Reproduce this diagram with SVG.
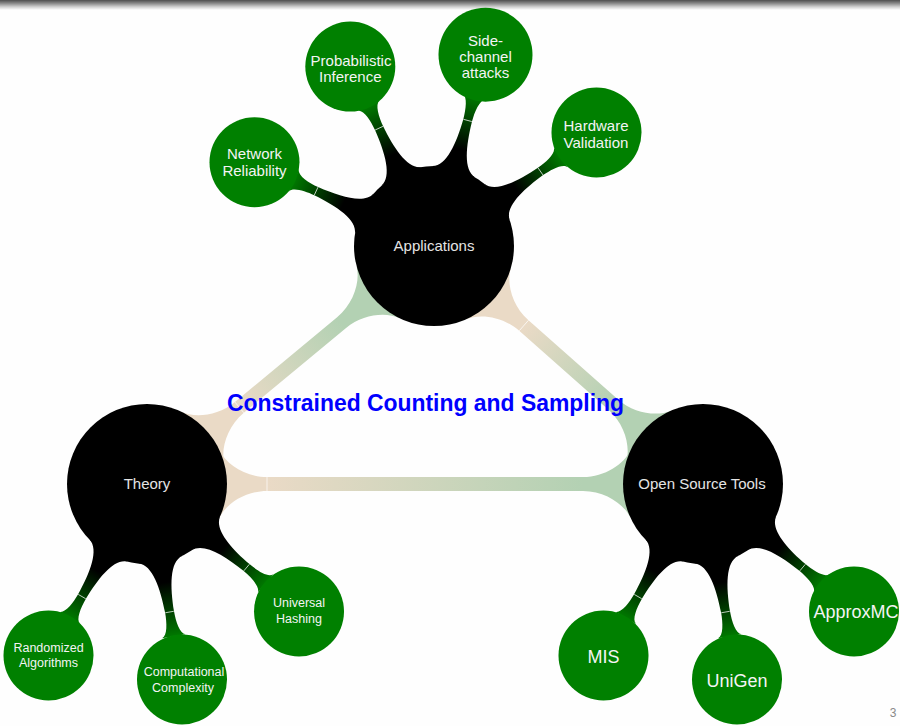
<svg xmlns="http://www.w3.org/2000/svg" xmlns:xlink="http://www.w3.org/1999/xlink" width="900" height="726" viewBox="0 0 900 726">
  <defs>
    <style>
      .t { font-family: "Liberation Sans", Arial, sans-serif; text-anchor: middle; }
      .main { fill: #e4e4e4; font-size: 15px; }
      .kid { fill: #f4f4f4; font-size: 15px; }
      .kids { fill: #f4f4f4; font-size: 12.5px; }
      .kidl { fill: #f4f4f4; font-size: 18px; }
      .hub { fill: #000000; }
      .leaf { fill: #008000; }
      .tick { stroke: #ffffff; stroke-width: 0.8; stroke-opacity: 0.85; }
    </style>
    <linearGradient id="topbar" x1="0" y1="0" x2="0" y2="1">
      <stop offset="0" stop-color="#4d4d4d"/>
      <stop offset="0.35" stop-color="#8c8c8c"/>
      <stop offset="0.7" stop-color="#d2d2d2"/>
      <stop offset="1" stop-color="#fefefe"/>
    </linearGradient>
    <linearGradient id="cg" gradientUnits="userSpaceOnUse" x1="100" y1="0" x2="158" y2="0">
      <stop offset="0" stop-color="#000000"/>
      <stop offset="1" stop-color="#008000"/>
    </linearGradient>
    <linearGradient id="bg1" gradientUnits="userSpaceOnUse" x1="120" y1="0" x2="436" y2="0">
      <stop offset="0" stop-color="#eadac6"/>
      <stop offset="1" stop-color="#b3d1b3"/>
    </linearGradient>
    <linearGradient id="bg2" gradientUnits="userSpaceOnUse" x1="120" y1="0" x2="252.8" y2="0">
      <stop offset="0" stop-color="#eadac6"/>
      <stop offset="1" stop-color="#b3d1b3"/>
    </linearGradient>
    <linearGradient id="bg3" gradientUnits="userSpaceOnUse" x1="120" y1="0" x2="239.2" y2="0">
      <stop offset="0" stop-color="#eadac6"/>
      <stop offset="1" stop-color="#b3d1b3"/>
    </linearGradient>
    <g id="conn">
      <path fill="url(#cg)" d="M 76.9,22.05 C 80.76,8.6 105,5 130,4.5 C 140,4.5 153,6.1 154.6,11.9 L 154.6,-11.9 C 153,-6.1 140,-4.5 130,-4.5 C 105,-5 80.76,-8.6 76.9,-22.05 Z"/>
      <line class="tick" x1="130" y1="-4.3" x2="130" y2="4.3"/>
    </g>
  </defs>

  <rect x="0" y="0" width="900" height="726" fill="#fefefe"/>
  <rect x="0" y="0" width="900" height="10" fill="url(#topbar)"/>

  <g id="connectors">
    <!-- main bands -->
    <g transform="translate(147,484)">
      <path fill="url(#bg1)" d="M 72.5,33.8 C 78.8,20.2 98,7 120,7 L 436,7 C 458,7 477.2,20.2 483.5,33.8 L 483.5,-33.8 C 477.2,-20.2 458,-7 436,-7 L 120,-7 C 98,-7 78.8,-20.2 72.5,-33.8 Z"/>
      <line class="tick" x1="120" y1="-7" x2="120" y2="7"/>
    </g>
    <g transform="translate(147,484) rotate(-39.67)">
      <path fill="url(#bg2)" d="M 72.5,33.8 C 78.8,20.2 98,7 120,7 L 252.8,7 C 274.8,7 294,20.2 300.3,33.8 L 300.3,-33.8 C 294,-20.2 274.8,-7 252.8,-7 L 120,-7 C 98,-7 78.8,-20.2 72.5,-33.8 Z"/>
      <line class="tick" x1="120" y1="-7" x2="120" y2="7"/>
    </g>
    <g transform="translate(434,246) rotate(41.5)">
      <path fill="url(#bg3)" d="M 72.5,33.8 C 78.8,20.2 98,7 120,7 L 239.2,7 C 261.2,7 280.4,20.2 286.7,33.8 L 286.7,-33.8 C 280.4,-20.2 261.2,-7 239.2,-7 L 120,-7 C 98,-7 78.8,-20.2 72.5,-33.8 Z"/>
      <line class="tick" x1="120" y1="-7" x2="120" y2="7"/>
    </g>
    <!-- child connectors -->
    <use xlink:href="#conn" transform="translate(434,246) rotate(-155)"/>
    <use xlink:href="#conn" transform="translate(434,246) rotate(-115)"/>
    <use xlink:href="#conn" transform="translate(434,246) rotate(-75)"/>
    <use xlink:href="#conn" transform="translate(434,246) rotate(-35)"/>
    <use xlink:href="#conn" transform="translate(147,484) rotate(120)"/>
    <use xlink:href="#conn" transform="translate(147,484) rotate(80)"/>
    <use xlink:href="#conn" transform="translate(147,484) rotate(40)"/>
    <use xlink:href="#conn" transform="translate(703,484) rotate(120)"/>
    <use xlink:href="#conn" transform="translate(703,484) rotate(80)"/>
    <use xlink:href="#conn" transform="translate(703,484) rotate(40)"/>
  </g>

  <g id="applications">
    <circle class="hub" cx="434" cy="246" r="80"/>
    <text class="t main" x="434" y="251">Applications</text>
  </g>
  <g id="theory">
    <circle class="hub" cx="147" cy="484" r="80"/>
    <text class="t main" x="147" y="489">Theory</text>
  </g>
  <g id="open-source-tools">
    <circle class="hub" cx="703" cy="484" r="80"/>
    <text class="t main" x="702" y="489">Open Source Tools</text>
  </g>

  <g id="network-reliability">
    <circle class="leaf" cx="254.5" cy="162.3" r="45"/>
    <text class="t kid" x="254.5" y="159">Network</text>
    <text class="t kid" x="254.5" y="175.5">Reliability</text>
  </g>
  <g id="probabilistic-inference">
    <circle class="leaf" cx="350.3" cy="66.6" r="45"/>
    <text class="t kid" x="351" y="65.5">Probabilistic</text>
    <text class="t kid" x="350.3" y="82">Inference</text>
  </g>
  <g id="side-channel-attacks">
    <circle class="leaf" cx="485.5" cy="54.7" r="47"/>
    <text class="t kid" x="485.5" y="45.5">Side-</text>
    <text class="t kid" x="485.5" y="61.5">channel</text>
    <text class="t kid" x="485.5" y="78">attacks</text>
  </g>
  <g id="hardware-validation">
    <circle class="leaf" cx="596.5" cy="132.5" r="45"/>
    <text class="t kid" x="596" y="131">Hardware</text>
    <text class="t kid" x="596" y="147.5">Validation</text>
  </g>

  <g id="randomized-algorithms">
    <circle class="leaf" cx="48.5" cy="655.5" r="45"/>
    <text class="t kids" x="48.5" y="651.5">Randomized</text>
    <text class="t kids" x="48.5" y="666.5">Algorithms</text>
  </g>
  <g id="computational-complexity">
    <circle class="leaf" cx="182" cy="679.5" r="45"/>
    <text class="t kids" x="184" y="676">Computational</text>
    <text class="t kids" x="183" y="691.5">Complexity</text>
  </g>
  <g id="universal-hashing">
    <circle class="leaf" cx="299" cy="611.5" r="45"/>
    <text class="t kids" x="299" y="607">Universal</text>
    <text class="t kids" x="299" y="622.5">Hashing</text>
  </g>

  <g id="mis">
    <circle class="leaf" cx="603.5" cy="655.5" r="45"/>
    <text class="t kidl" x="603.5" y="663">MIS</text>
  </g>
  <g id="unigen">
    <circle class="leaf" cx="737" cy="679.5" r="45"/>
    <text class="t kidl" x="737" y="687">UniGen</text>
  </g>
  <g id="approxmc">
    <circle class="leaf" cx="854" cy="611.5" r="45"/>
    <text class="t kidl" x="856" y="617.5">ApproxMC</text>
  </g>

  <g id="title">
    <text class="t" x="425.5" y="411" font-size="23" font-weight="bold" fill="#0000ff" textLength="397" lengthAdjust="spacingAndGlyphs">Constrained Counting and Sampling</text>
  </g>
  <text class="t" x="893" y="717" font-size="12" fill="#8a8a8a">3</text>
</svg>
